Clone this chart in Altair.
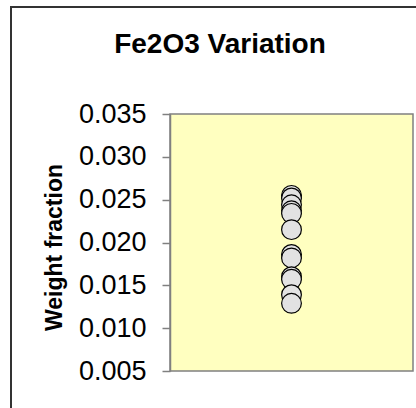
import altair as alt
import pandas as pd

# Data
weight_fraction = [0.0255, 0.0252, 0.0244, 0.0237, 0.0234, 0.0215,
                   0.0186, 0.0182, 0.0160, 0.0157, 0.0139, 0.0129]
sample = ["Fe2O3"] * len(weight_fraction)
y_ticks = [0.005, 0.010, 0.015, 0.020, 0.025, 0.030, 0.035]
chart_title = ["Fe2O3 Variation"]

df = pd.DataFrame({"sample": sample, "weight_fraction": weight_fraction})
frame_df = pd.DataFrame({"k": [0]})
title_df = pd.DataFrame({"title": chart_title})

FONT = "Liberation Sans"

frame = alt.Chart(frame_df).mark_rect(
    fill=None, stroke="#333333", strokeWidth=2
).encode(
    x=alt.value(-159), x2=alt.value(400),
    y=alt.value(-107), y2=alt.value(400),
)

title = alt.Chart(title_df).mark_text(
    font=FONT, fontSize=28, fontWeight="bold", color="#000000",
    align="center", baseline="alphabetic",
).encode(
    x=alt.value(50), y=alt.value(-61), text="title:N",
)

points = alt.Chart(df).mark_point(
    shape="circle", fill="#E2E2E2", stroke="#000000", strokeWidth=1.2,
    size=390, opacity=1, fillOpacity=1,
).encode(
    x=alt.X("sample:N", axis=None),
    y=alt.Y(
        "weight_fraction:Q",
        scale=alt.Scale(domain=[0.005, 0.035], nice=False, zero=False),
        axis=alt.Axis(
            values=y_ticks, format=".3f", grid=False,
            labelFont=FONT, labelFontSize=27, labelColor="#000000",
            labelPadding=16, tickSize=8, tickColor="#808080",
            domainColor="#808080", domainWidth=1.5, tickWidth=1.5,
            title="Weight fraction", titleFont=FONT, titleFontSize=23,
            titleFontWeight="bold", titleColor="#000000",
            titleAngle=-90, titleAlign="center", titleBaseline="middle",
            titleX=-116, titleY=133,
        ),
    ),
)

chart = alt.layer(points, frame, title).properties(
    width=243, height=257,
    padding={"left": 170, "top": 114, "right": 3, "bottom": 37},
    autosize=alt.AutoSizeParams(type="none"),
    background="#FFFFFF",
).configure_view(
    fill="#FFFFC0", stroke="#808080", strokeWidth=1.5
)

chart.save("out.html", embed_options={"renderer": "svg", "actions": False})
